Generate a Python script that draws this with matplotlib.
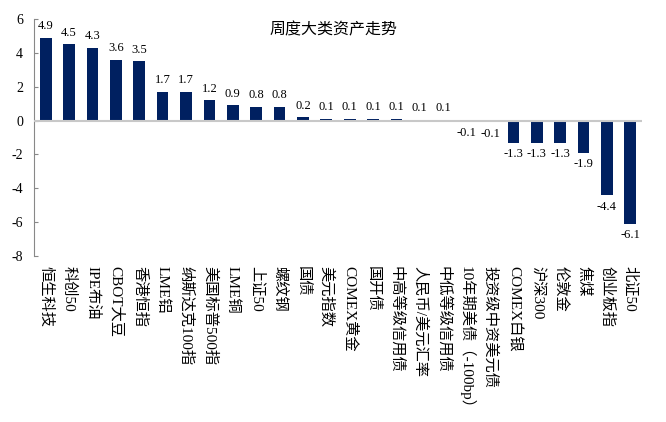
import matplotlib
matplotlib.use("Agg")
import matplotlib.pyplot as plt

categories = ["恒生科技", "科创50", "IPE布油", "CBOT大豆", "香港恒指", "LME铝",
              "纳斯达克100指", "美国标普500指", "LME铜", "上证50", "螺纹钢", "国债",
              "美元指数", "COMEX黄金", "国开债", "中高等级信用债", "人民币/美元汇率",
              "中低等级信用债", "10年期美债（-100bp）", "投资级中资美元债", "COMEX白银",
              "沪深300", "伦敦金", "焦煤", "创业板指", "北证50"]
values = [4.9, 4.5, 4.3, 3.6, 3.5, 1.7, 1.7, 1.2, 0.9, 0.8, 0.8, 0.2,
          0.1, 0.1, 0.1, 0.1, 0.06, 0.06, -0.06, -0.1, -1.3, -1.3, -1.3, -1.9, -4.4, -6.1]
yticks = [-8, -6, -4, -2, 0, 2, 4, 6]
title = "周度大类资产走势"

fam = ["Liberation Serif", "Noto Sans CJK SC", "DejaVu Sans"]
plt.rcParams['font.family'] = fam

fig = plt.figure(figsize=(6.66, 4.22), dpi=100)
ax = fig.add_axes([34/666, 1 - 256/422, (642-34)/666, (256-19)/422])
x = list(range(len(values)))
ax.bar(x, values, width=0.5, color="#002060", zorder=2)
ax.axhline(0, color="#c8c8c8", lw=1.5, zorder=3)
ax.set_xlim(-0.5, len(values) - 0.5)
ax.set_ylim(-8, 6)
ax.set_yticks(yticks)
ax.set_yticklabels([str(t) for t in yticks], fontsize=10)
ax.tick_params(axis='y', direction='in', length=3, color="#888888", pad=8)
ax.set_xticks([])
for s in ["top", "right", "bottom"]:
    ax.spines[s].set_visible(False)
ax.spines["left"].set_color("#888888")

for xi, v in zip(x, values):
    if v >= 0:
        ax.annotate(f"{v:.1f}", (xi, v), xytext=(0, 4), textcoords="offset points",
                    ha="center", va="bottom", fontsize=9)
    else:
        ax.annotate(f"{v:.1f}", (xi, v), xytext=(0, -4), textcoords="offset points",
                    ha="center", va="top", fontsize=9)

for xi, c in zip(x, categories):
    ax.annotate(c, (xi, -8), xytext=(0, -7), textcoords="offset points",
                ha="center", va="top", rotation=270, fontsize=11)

fig.text(333/666, 1 - 30/422, title, ha="center", va="center", fontsize=11.5)

fig.savefig("out.png", dpi=100, facecolor="white")
